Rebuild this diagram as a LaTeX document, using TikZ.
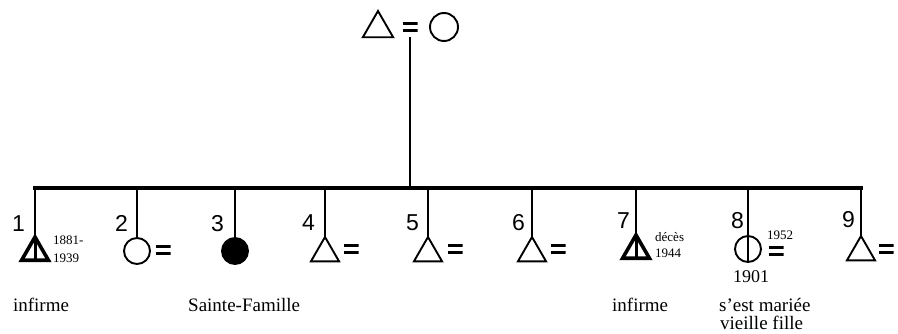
\documentclass[tikz,border=0pt]{standalone}
\usepackage{fontspec}
\setmainfont{Liberation Serif}
\newfontfamily\numfont{Liberation Sans}
\usetikzlibrary{shapes.geometric}
\begin{document}
\begin{tikzpicture}[x=1pt,y=-1pt,
  tri/.style={regular polygon, regular polygon sides=3, minimum size=32.5pt,
    inner sep=0pt, outer sep=0pt, draw, line width=1.9pt, anchor=corner 1},
  thicktri/.style={tri, line width=3.6pt, minimum size=31pt,
    path picture={\draw[line width=3pt] (path picture bounding box.north) -- (path picture bounding box.south);}},
  circ/.style={circle, minimum size=26pt, inner sep=0pt, outer sep=0pt, draw, line width=1.9pt},
  fcirc/.style={circ, fill=black},
  barcirc/.style={circ, path picture={\draw[line width=1.3pt] (path picture bounding box.north) -- (path picture bounding box.south);}},
  eqn/.style={rectangle, minimum width=15pt, minimum height=10pt, inner sep=0pt, outer sep=0pt,
    path picture={\draw[line width=2.5pt] ([yshift=3.6pt]path picture bounding box.west) -- ([yshift=3.6pt]path picture bounding box.east)
      ([yshift=-3.6pt]path picture bounding box.west) -- ([yshift=-3.6pt]path picture bounding box.east);}},
  bar/.style={line width=3.8pt, line cap=rect},
  drop/.style={line width=1.2pt},
  stem/.style={line width=1.9pt},
  num/.style={font=\numfont\fontsize{23}{25}\selectfont, inner sep=0pt, anchor=base east},
  txt/.style={font=\fontsize{19}{21}\selectfont, inner sep=0pt, anchor=base west},
  small/.style={font=\fontsize{13}{14}\selectfont, inner sep=0pt, anchor=base west}
]
\useasboundingbox (0,0) rectangle (898,334);

% parents
\node[tri, minimum size=35pt] (father) at (378,11) {};
\node[eqn] (e0) at (410,27) {};
\node[circ, minimum size=28pt] (mother) at (444,27) {};
\coordinate (top) at (410,188);
\draw[stem, shorten <=5pt] (e0.south) -- (top);

% sibling bar
\coordinate (d1) at (35,188);
\coordinate (d2) at (137,188);
\coordinate (d3) at (235,188);
\coordinate (d4) at (325,188);
\coordinate (d5) at (428,188);
\coordinate (d6) at (532,188);
\coordinate (d7) at (636,188);
\coordinate (d8) at (748,188);
\coordinate (d9) at (861,188);
\draw[bar] (d1) -- (d9);

% 1
\node[thicktri] (c1) at (35,237) {};
\draw[drop] (d1) -- (c1.corner 1);
\node[num] (n1) at (25,232) {1};
\node[small] (y1a) at (53,244) {1881-};
\node[small] (y1b) at (53,262) {1939};
\node[txt, anchor=base] (l1) at (41,311) {infirme};

% 2
\node[circ, anchor=north] (c2) at (137,238) {};
\draw[drop] (d2) -- (c2.north);
\node[eqn] (e2) at (163,250) {};
\node[num] (n2) at (128,232) {2};

% 3
\node[fcirc, anchor=north] (c3) at (235,238) {};
\draw[drop] (d3) -- (c3.north);
\node[num] (n3) at (224,232) {3};
\node[txt] (l3) at (188,311) {Sainte-Famille};

% 4
\node[tri] (c4) at (325,237) {};
\draw[drop] (d4) -- (c4.corner 1);
\node[eqn] (e4) at (351,249) {};
\node[num] (n4) at (315,231) {4};

% 5
\node[tri] (c5) at (428,237) {};
\draw[drop] (d5) -- (c5.corner 1);
\node[eqn] (e5) at (455,249) {};
\node[num] (n5) at (419,230) {5};

% 6
\node[tri] (c6) at (532,237) {};
\draw[drop] (d6) -- (c6.corner 1);
\node[eqn] (e6) at (558,249) {};
\node[num] (n6) at (525,230) {6};

% 7
\node[thicktri] (c7) at (636,235) {};
\draw[drop] (d7) -- (c7.corner 1);
\node[num] (n7) at (630,229) {7};
\node[small] (y7a) at (655,242) {décès};
\node[small] (y7b) at (655,258) {1944};
\node[txt] (l7) at (612,311) {infirme};

% 8
\node[barcirc, anchor=north] (c8) at (748,236) {};
\draw[drop] (d8) -- (c8.north);
\node[eqn] (e8) at (776,251) {};
\node[num] (n8) at (744,229) {8};
\node[small] (y8) at (767,240) {1952};
\node[txt, font=\fontsize{18}{20}\selectfont] (b8) at (733,283) {1901};
\node[txt] (l8a) at (719,311) {s'est mariée};
\node[txt] (l8b) at (720,329) {vieille fille};

% 9
\node[tri] (c9) at (861,236) {};
\draw[drop] (d9) -- (c9.corner 1);
\node[eqn] (e9) at (886,249) {};
\node[num] (n9) at (855,228) {9};
\end{tikzpicture}
\end{document}
